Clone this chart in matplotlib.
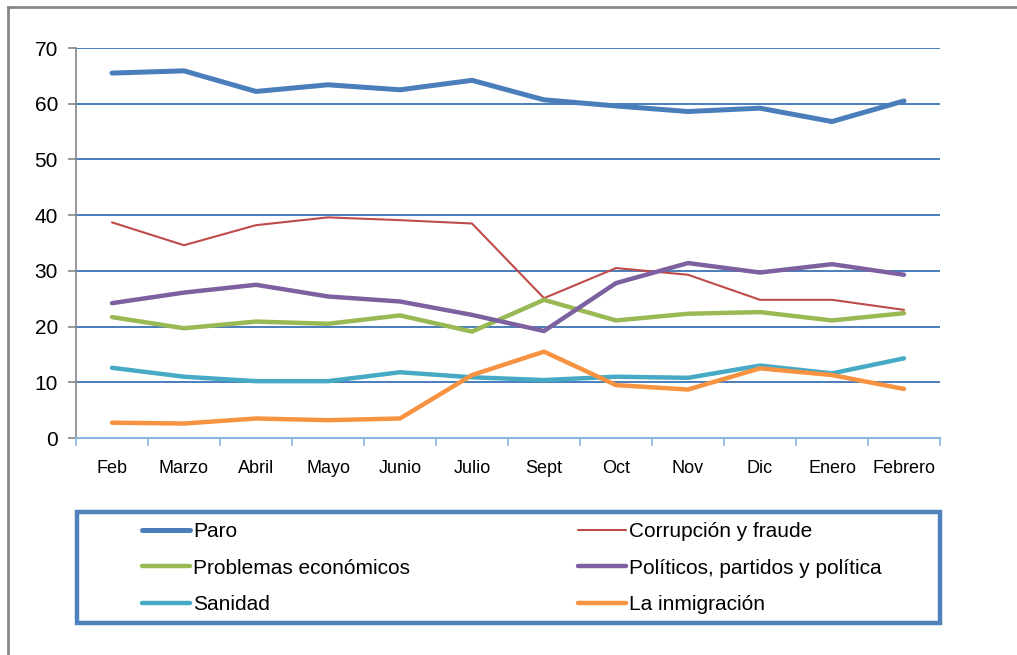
import matplotlib
matplotlib.use("Agg")
import matplotlib.pyplot as plt
from matplotlib.lines import Line2D
from matplotlib.patches import Rectangle

plt.rcParams['font.family'] = ['Liberation Sans', 'DejaVu Sans']

months = ['Feb', 'Marzo', 'Abril', 'Mayo', 'Junio', 'Julio', 'Sept',
          'Oct', 'Nov', 'Dic', 'Enero', 'Febrero']

paro = [65.5, 65.9, 62.2, 63.4, 62.5, 64.2, 60.7, 59.6, 58.6, 59.2, 56.8, 60.5]
corrupcion = [38.7, 34.6, 38.2, 39.6, 39.1, 38.5, 25.1, 30.5, 29.3, 24.8, 24.8, 23.0]
economicos = [21.7, 19.7, 20.9, 20.5, 22.0, 19.1, 24.8, 21.1, 22.3, 22.6, 21.1, 22.4]
politicos = [24.2, 26.1, 27.5, 25.4, 24.5, 22.1, 19.2, 27.8, 31.4, 29.7, 31.2, 29.3]
sanidad = [12.6, 11.0, 10.2, 10.2, 11.8, 10.9, 10.4, 11.0, 10.8, 13.0, 11.6, 14.3]
inmigracion = [2.75, 2.6, 3.5, 3.2, 3.5, 11.3, 15.5, 9.5, 8.7, 12.5, 11.3, 8.8]

series = [
    ('Paro', paro, '#4A7EBB', 3.6),
    ('Corrupción y fraude', corrupcion, '#BE4B48', 1.5),
    ('Problemas económicos', economicos, '#98B954', 3.2),
    ('Políticos, partidos y política', politicos, '#7D60A0', 3.2),
    ('Sanidad', sanidad, '#46AAC5', 3.2),
    ('La inmigración', inmigracion, '#F69240', 3.2),
]

W, H = 1017, 655
fig = plt.figure(figsize=(W / 100, H / 100), dpi=100)
ax = fig.add_axes([76 / W, 1 - 438 / H, (940 - 76) / W, (438 - 48) / H])

x = list(range(len(months)))
handles = []
for name, vals, color, lw in series:
    ln, = ax.plot(x, vals, color=color, lw=lw, label=name,
                  solid_capstyle='round', solid_joinstyle='round')
    handles.append(ln)

ax.set_xlim(-0.5, len(months) - 0.5)
ax.set_ylim(0, 70)
ax.set_yticks(range(0, 71, 10))
ax.yaxis.grid(True, color='#4A7EBB', lw=1.4)
ax.set_axisbelow(True)

ax.set_xticks(x)
ax.set_xticklabels(months, fontsize=13)
ax.set_xticks([i - 0.5 for i in range(len(months) + 1)], minor=True)
ax.tick_params(axis='x', which='major', length=0, pad=16)
ax.tick_params(axis='x', which='minor', length=6, color='#8EB4E3', width=1.2)
ax.tick_params(axis='y', length=6, color='#868686', width=1.2, pad=7, labelsize=15)

for s in ['top', 'right']:
    ax.spines[s].set_visible(False)
ax.spines['left'].set_color('#868686')
ax.spines['left'].set_linewidth(1.2)
ax.spines['bottom'].set_color('#8EB4E3')
ax.spines['bottom'].set_linewidth(1.5)

# legend box, entries read row by row like the original
fig.add_artist(Rectangle((77 / W, 1 - 623 / H), (940 - 77) / W, (623 - 512) / H,
                         transform=fig.transFigure, fill=False,
                         edgecolor='#4F81BD', lw=3.2))
order = [0, 2, 4, 1, 3, 5]
fig.legend(handles=[handles[i] for i in order], ncol=2, mode='expand', frameon=False,
           bbox_to_anchor=(142 / W, 1 - 626 / H, (882 - 142) / W, (626 - 510) / H),
           loc='center', borderaxespad=0, borderpad=0, fontsize=15,
           handlelength=2.3, handletextpad=0.15, labelspacing=0.85)

# outer frame
fig.add_artist(Line2D([8 / W, 8 / W], [0, 1 - 7 / H], transform=fig.transFigure,
                      color='#878787', lw=2))
fig.add_artist(Line2D([8 / W, 1], [1 - 7 / H, 1 - 7 / H], transform=fig.transFigure,
                      color='#878787', lw=2))

fig.savefig('out.png', dpi=100)
